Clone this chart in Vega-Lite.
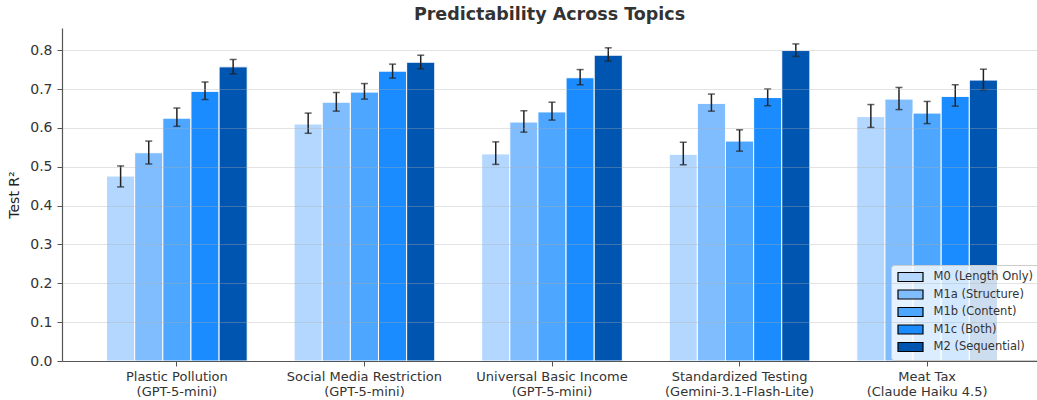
{
  "$schema": "https://vega.github.io/schema/vega-lite/v6.json",
  "autosize": "none",
  "width": 975,
  "height": 333,
  "padding": {"left": 62, "top": 28, "right": 0, "bottom": 39},
  "background": "white",
  "title": {"text": "Predictability Across Topics", "fontSize": 17.5, "fontWeight": "bold", "color": "#333333", "anchor": "middle", "offset": 5, "font": "DejaVu Sans"},
  "config": {
    "font": "DejaVu Sans",
    "view": {"stroke": null},
    "axis": {"labelColor": "#333333", "titleColor": "#222222", "tickColor": "#555555", "domainColor": "#555555", "labelFont": "DejaVu Sans", "titleFont": "DejaVu Sans"}
  },
  "data": {"values": [
    {"topic": "Plastic Pollution|(GPT-5-mini)", "model": "M0 (Length Only)", "r2": 0.476, "lo": 0.448, "hi": 0.502},
    {"topic": "Plastic Pollution|(GPT-5-mini)", "model": "M1a (Structure)", "r2": 0.536, "lo": 0.507, "hi": 0.566},
    {"topic": "Plastic Pollution|(GPT-5-mini)", "model": "M1b (Content)", "r2": 0.625, "lo": 0.604, "hi": 0.651},
    {"topic": "Plastic Pollution|(GPT-5-mini)", "model": "M1c (Both)", "r2": 0.694, "lo": 0.673, "hi": 0.718},
    {"topic": "Plastic Pollution|(GPT-5-mini)", "model": "M2 (Sequential)", "r2": 0.757, "lo": 0.739, "hi": 0.776},
    {"topic": "Social Media Restriction|(GPT-5-mini)", "model": "M0 (Length Only)", "r2": 0.610, "lo": 0.586, "hi": 0.638},
    {"topic": "Social Media Restriction|(GPT-5-mini)", "model": "M1a (Structure)", "r2": 0.666, "lo": 0.643, "hi": 0.691},
    {"topic": "Social Media Restriction|(GPT-5-mini)", "model": "M1b (Content)", "r2": 0.692, "lo": 0.674, "hi": 0.714},
    {"topic": "Social Media Restriction|(GPT-5-mini)", "model": "M1c (Both)", "r2": 0.746, "lo": 0.728, "hi": 0.764},
    {"topic": "Social Media Restriction|(GPT-5-mini)", "model": "M2 (Sequential)", "r2": 0.769, "lo": 0.752, "hi": 0.787},
    {"topic": "Universal Basic Income|(GPT-5-mini)", "model": "M0 (Length Only)", "r2": 0.533, "lo": 0.506, "hi": 0.564},
    {"topic": "Universal Basic Income|(GPT-5-mini)", "model": "M1a (Structure)", "r2": 0.615, "lo": 0.589, "hi": 0.644},
    {"topic": "Universal Basic Income|(GPT-5-mini)", "model": "M1b (Content)", "r2": 0.641, "lo": 0.620, "hi": 0.666},
    {"topic": "Universal Basic Income|(GPT-5-mini)", "model": "M1c (Both)", "r2": 0.729, "lo": 0.711, "hi": 0.750},
    {"topic": "Universal Basic Income|(GPT-5-mini)", "model": "M2 (Sequential)", "r2": 0.787, "lo": 0.772, "hi": 0.806},
    {"topic": "Standardized Testing|(Gemini-3.1-Flash-Lite)", "model": "M0 (Length Only)", "r2": 0.532, "lo": 0.505, "hi": 0.563},
    {"topic": "Standardized Testing|(Gemini-3.1-Flash-Lite)", "model": "M1a (Structure)", "r2": 0.663, "lo": 0.643, "hi": 0.687},
    {"topic": "Standardized Testing|(Gemini-3.1-Flash-Lite)", "model": "M1b (Content)", "r2": 0.566, "lo": 0.540, "hi": 0.595},
    {"topic": "Standardized Testing|(Gemini-3.1-Flash-Lite)", "model": "M1c (Both)", "r2": 0.678, "lo": 0.657, "hi": 0.700},
    {"topic": "Standardized Testing|(Gemini-3.1-Flash-Lite)", "model": "M2 (Sequential)", "r2": 0.799, "lo": 0.784, "hi": 0.816},
    {"topic": "Meat Tax|(Claude Haiku 4.5)", "model": "M0 (Length Only)", "r2": 0.629, "lo": 0.601, "hi": 0.660},
    {"topic": "Meat Tax|(Claude Haiku 4.5)", "model": "M1a (Structure)", "r2": 0.674, "lo": 0.647, "hi": 0.704},
    {"topic": "Meat Tax|(Claude Haiku 4.5)", "model": "M1b (Content)", "r2": 0.638, "lo": 0.611, "hi": 0.668},
    {"topic": "Meat Tax|(Claude Haiku 4.5)", "model": "M1c (Both)", "r2": 0.681, "lo": 0.656, "hi": 0.711},
    {"topic": "Meat Tax|(Claude Haiku 4.5)", "model": "M2 (Sequential)", "r2": 0.723, "lo": 0.698, "hi": 0.751}
  ]},
  "encoding": {
    "x": {"field": "topic", "type": "nominal", "sort": null,
      "scale": {"range": [0, 980], "paddingInner": 0.25, "paddingOuter": 0.2375},
      "axis": {"title": null, "labelAngle": 0, "labelExpr": "split(datum.label, '|')", "labelFontSize": 13, "labelLineHeight": 15, "tickSize": 5, "labelPadding": 4, "domainWidth": 1.2, "zindex": 1}},
    "xOffset": {"field": "model", "type": "nominal", "scale": {"paddingInner": 0, "paddingOuter": 0}}
  },
  "layer": [
    {
      "mark": {"type": "bar", "stroke": "white", "strokeWidth": 1},
      "encoding": {
        "y": {"field": "r2", "type": "quantitative",
          "scale": {"domain": [0, 0.857], "nice": false, "zero": true},
          "axis": {"title": "Test R²", "titleFontSize": 14, "titleFontWeight": "normal", "titlePadding": 8, "values": [0, 0.1, 0.2, 0.3, 0.4, 0.5, 0.6, 0.7, 0.8], "format": ".1f", "labelFontSize": 14, "tickSize": 5, "labelPadding": 5, "domainWidth": 1.2, "gridColor": "#b0b0b0", "gridOpacity": 0.35, "gridWidth": 1, "zindex": 1}},
        "color": {"field": "model", "type": "nominal",
          "scale": {"range": ["#b3d7ff", "#80bdff", "#4da6ff", "#1a8cff", "#0055b0"]},
          "legend": {"title": null, "orient": "none", "legendX": 829, "legendY": 237,
            "symbolType": "M-2.5,-0.9H2.5V0.9H-2.5Z", "symbolSize": 100, "symbolStrokeColor": "black", "symbolStrokeWidth": 1.2, "symbolOffset": 7.5,
            "labelFontSize": 11.5, "labelColor": "#333333", "labelOffset": 17, "padding": 6, "rowPadding": 3.5, "offset": 0,
            "strokeColor": "#cccccc", "fillColor": "rgba(255,255,255,0.8)", "cornerRadius": 3, "symbolOpacity": 1}}
      }
    },
    {
      "mark": {"type": "rule", "color": "#222222", "strokeWidth": 1.5},
      "encoding": {"y": {"field": "lo", "type": "quantitative"}, "y2": {"field": "hi"}}
    },
    {
      "mark": {"type": "tick", "color": "#222222", "size": 7, "thickness": 1.5},
      "encoding": {"y": {"field": "lo", "type": "quantitative"}}
    },
    {
      "mark": {"type": "tick", "color": "#222222", "size": 7, "thickness": 1.5},
      "encoding": {"y": {"field": "hi", "type": "quantitative"}}
    }
  ]
}
